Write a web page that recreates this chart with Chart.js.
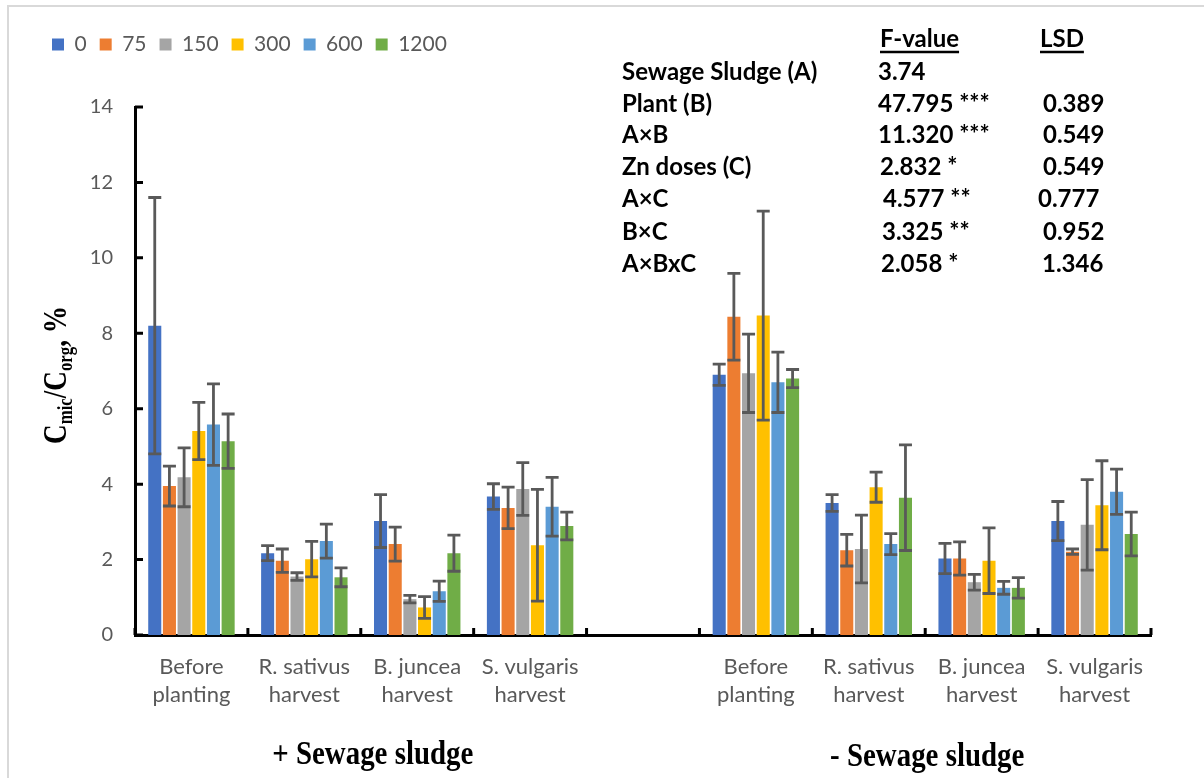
<!DOCTYPE html>
<html><head><meta charset="utf-8">
<script src="https://cdn.jsdelivr.net/npm/chart.js@4.4.0/dist/chart.umd.min.js"></script>
<style>
html,body{margin:0;padding:0;background:#fff;overflow:hidden;}
#wrap{position:relative;width:1204px;height:778px;overflow:hidden;}
#frame{position:absolute;left:7px;top:5px;width:1300px;height:900px;border-left:2px solid #d9d9d9;border-top:2px solid #d9d9d9;}
canvas{position:absolute;left:0;top:0;}
</style></head><body>
<div id="wrap"><div id="frame"></div><canvas id="c" width="1204" height="778"></canvas></div>
<script>
// ---- data ----
const categories = [['Before','planting'],['R. sativus','harvest'],['B. juncea','harvest'],['S. vulgaris','harvest'],'',
                    ['Before','planting'],['R. sativus','harvest'],['B. juncea','harvest'],['S. vulgaris','harvest']];
const doseLabels = ['0','75','150','300','600','1200'];
const dose0    = [8.20, 2.17, 3.02, 3.67, null, 6.90, 3.50, 2.03, 3.02];
const dose75   = [3.95, 1.97, 2.41, 3.37, null, 8.44, 2.25, 2.03, 2.21];
const dose150  = [4.18, 1.55, 0.95, 3.87, null, 6.94, 2.28, 1.40, 2.92];
const dose300  = [5.41, 2.01, 0.73, 2.38, null, 8.47, 3.92, 1.97, 3.44];
const dose600  = [5.58, 2.49, 1.16, 3.40, null, 6.70, 2.41, 1.25, 3.80];
const dose1200 = [5.14, 1.53, 2.17, 2.89, null, 6.80, 3.64, 1.25, 2.68];
const err0    = [3.40, 0.20, 0.70, 0.34, null, 0.28, 0.22, 0.40, 0.52];
const err75   = [0.53, 0.31, 0.45, 0.55, null, 1.15, 0.42, 0.44, 0.07];
const err150  = [0.78, 0.10, 0.10, 0.70, null, 1.04, 0.90, 0.21, 1.20];
const err300  = [0.76, 0.47, 0.29, 1.48, null, 2.77, 0.40, 0.87, 1.18];
const err600  = [1.08, 0.45, 0.27, 0.78, null, 0.80, 0.28, 0.17, 0.60];
const err1200 = [0.72, 0.25, 0.48, 0.37, null, 0.24, 1.40, 0.27, 0.58];
const groupLabels = ['+ Sewage sludge', '- Sewage sludge'];
const statNames  = ['Sewage Sludge (A)','Plant (B)','A\u00d7B','Zn doses (C)','A\u00d7C','B\u00d7C','A\u00d7BxC'];
const statF      = ['3.74','47.795 ***','11.320 ***','2.832 *','4.577 **','3.325 **','2.058 *'];
const statLSD    = ['','0.389','0.549','0.549','0.777','0.952','1.346'];
const yTicks = [0,2,4,6,8,10,12,14];

const colors = ['#4472C4','#ED7D31','#A5A5A5','#FFC000','#5B9BD5','#70AD47'];
const values = [dose0,dose75,dose150,dose300,dose600,dose1200];
const errors = [err0,err75,err150,err300,err600,err1200];

const datasets = doseLabels.map((l,i)=>({label:l,data:values[i],errors:errors[i],backgroundColor:colors[i],borderWidth:0,
  categoryPercentage:0.78,barPercentage:0.89}));

const legendFix = {
  id:'legendFix',
  beforeLayout(chart){
    const lg = chart.legend;
    if(lg && !lg._fixed){ const f = lg.fit; lg.fit = function(){ f.call(this); this.height = 86; }; lg._fixed = true; }
  }
};

const errorBars = {
  id:'errorBars',
  afterDatasetsDraw(chart){
    const ctx = chart.ctx, y = chart.scales.y;
    ctx.save(); ctx.strokeStyle = '#595959'; ctx.lineWidth = 2.8; ctx.lineCap='butt';
    chart.data.datasets.forEach((ds,i)=>{
      const meta = chart.getDatasetMeta(i);
      meta.data.forEach((el,j)=>{
        const v = ds.data[j], e = ds.errors[j];
        if(v==null||e==null) return;
        const yt = y.getPixelForValue(v+e), yb = y.getPixelForValue(v-e), x = el.x, hw = 6.5;
        ctx.beginPath();
        ctx.moveTo(x,yt); ctx.lineTo(x,yb);
        ctx.moveTo(x-hw,yt); ctx.lineTo(x+hw,yt);
        ctx.moveTo(x-hw,yb); ctx.lineTo(x+hw,yb);
        ctx.stroke();
      });
    });
    ctx.restore();
  }
};

const decor = {
  id:'decor',
  afterDraw(chart){
    const ctx = chart.ctx, xs = chart.scales.x, ys = chart.scales.y, a = chart.chartArea;
    ctx.save();
    // inside tick marks
    ctx.strokeStyle = '#000'; ctx.lineWidth = 3;
    ctx.beginPath();
    yTicks.forEach(t=>{ const py = ys.getPixelForValue(t); ctx.moveTo(a.left, py); ctx.lineTo(a.left+8, py); });
    const n = categories.length, half = (xs.getPixelForValue(1)-xs.getPixelForValue(0))/2;
    for(let i=0;i<=n;i++){
      const px = i<n ? xs.getPixelForValue(i)-half : xs.getPixelForValue(n-1)+half;
      ctx.moveTo(px, a.bottom); ctx.lineTo(px, a.bottom-7);
    }
    ctx.stroke();

    // y-axis title with subscripts
    const big = 'bold 34px "Liberation Serif", "Times New Roman", serif';
    const small = 'bold 21px "Liberation Serif", "Times New Roman", serif';
    const parts = [['C',big,0],['mic',small,6],['/C',big,0],['org',small,6],[', %',big,0]];
    ctx.translate(66, 375); ctx.rotate(-Math.PI/2); ctx.scale(0.8,1);
    let tot = 0; parts.forEach(p=>{ ctx.font = p[1]; tot += ctx.measureText(p[0]).width; });
    let cx = -tot/2; ctx.fillStyle = '#000'; ctx.textBaseline = 'alphabetic';
    parts.forEach(p=>{ ctx.font = p[1]; ctx.fillText(p[0], cx, p[2]); cx += ctx.measureText(p[0]).width; });
    ctx.restore();

    // group labels
    ctx.save();
    const gx = [(xs.getPixelForValue(1)+xs.getPixelForValue(2))/2 + 12, (xs.getPixelForValue(6)+xs.getPixelForValue(7))/2 + 2];
    const gy = [755, 757];
    ctx.fillStyle = '#000'; ctx.font = 'bold 34px "Liberation Serif", "Times New Roman", serif'; ctx.textAlign='center';
    groupLabels.forEach((g,i)=>{ ctx.save(); ctx.translate(gx[i], gy[i]); ctx.scale(0.85,1); ctx.fillText(g,0,0); ctx.restore(); });
    ctx.restore();

    // statistics table
    ctx.save();
    ctx.fillStyle = '#000'; ctx.strokeStyle = '#000'; ctx.textBaseline = 'middle';
    ctx.font = 'bold 24px Lato, sans-serif';
    const hy = 39;
    [['F-value',880],['LSD',1040]].forEach(h=>{
      ctx.fillText(h[0], h[1], hy);
      const w = ctx.measureText(h[0]).width;
      ctx.lineWidth = 2.5; ctx.beginPath(); ctx.moveTo(h[1], hy+13); ctx.lineTo(h[1]+w, hy+13); ctx.stroke();
    });
    const rowY = [72,104,135,167,199,232,264];
    const fX = [878,878,878,880,883,882,881];
    const lX = [1043,1043,1043,1043,1038,1043,1042];
    statNames.forEach((s,i)=>{
      ctx.fillText(s, 622, rowY[i]);
      ctx.fillText(statF[i], fX[i], rowY[i]);
      if(statLSD[i]) ctx.fillText(statLSD[i], lX[i], rowY[i]);
    });
    ctx.restore();
  }
};

new Chart(document.getElementById('c'), {
  type:'bar',
  data:{labels:categories, datasets},
  plugins:[legendFix, errorBars, decor],
  options:{
    responsive:false, animation:false, events:[],
    layout:{padding:{top:21,left:39,right:53,bottom:0}},
    plugins:{
      legend:{position:'top', align:'start',
        labels:{boxWidth:12, boxHeight:12, padding:13, color:'#595959', font:{family:'Lato', size:21}}},
      tooltip:{enabled:false}
    },
    scales:{
      x:{
        grid:{display:false, drawTicks:false},
        border:{display:true, color:'#000', width:3},
        ticks:{color:'#595959', font:{family:'Lato', size:22, lineHeight:1.27}, padding:18, maxRotation:0, autoSkip:false},
        afterFit(s){ s.height = 143; }
      },
      y:{
        min:0, max:14,
        grid:{display:false, drawTicks:false},
        border:{display:true, color:'#000', width:3},
        ticks:{stepSize:2, color:'#595959', font:{family:'Lato', size:20}, padding:22},
        afterFit(s){ s.width = 96; }
      }
    }
  }
});
</script>
</body></html>
